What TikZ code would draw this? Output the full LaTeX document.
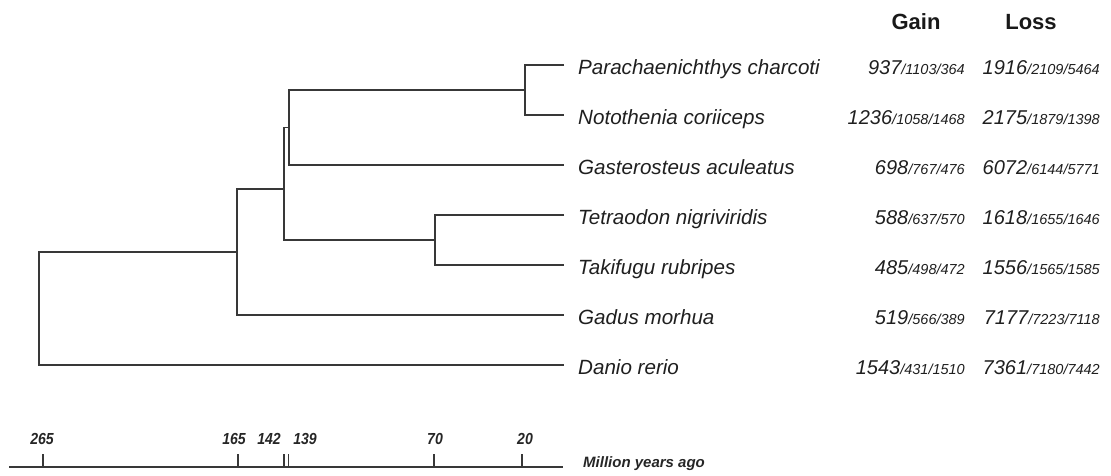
\documentclass[tikz,border=0pt]{standalone}
\usepackage{fontspec}
\setmainfont{Liberation Sans}
\newfontfamily\axisfont[FakeStretch=0.88]{Liberation Sans}
\begin{document}
\begin{tikzpicture}[x=1pt,y=-1pt,
  tree/.style={line width=1.5pt, draw=black!78},
  species/.style={anchor=base west, inner sep=0pt, font=\fontsize{20.6}{24}\selectfont\itshape, text=black!88},
  num/.style={anchor=base east, inner sep=0pt, font=\itshape, text=black!88},
  head/.style={anchor=base, inner sep=0pt, font=\fontsize{22}{26}\selectfont\bfseries, text=black!90},
  tick/.style={line width=1.4pt, draw=black!78},
  ticklab/.style={anchor=base, inner sep=0pt, font=\fontsize{16}{18}\selectfont\axisfont\bfseries\itshape, text=black!85}]
\useasboundingbox (0,0) rectangle (1111,475);
\newcommand{\gl}[2]{{\fontsize{20}{24}\selectfont #1}{\fontsize{14.5}{17}\selectfont #2}}
% leaves
\coordinate (lPara) at (564,65);
\coordinate (lNoto) at (564,115);
\coordinate (lGast) at (564,165);
\coordinate (lTetra) at (564,215);
\coordinate (lTaki) at (564,265);
\coordinate (lGadus) at (564,315);
\coordinate (lDanio) at (564,365);
% internal nodes
\coordinate (n20) at (525,90);
\coordinate (n139) at (289,127.5);
\coordinate (n70) at (435,240);
\coordinate (n142) at (284,189);
\coordinate (n165) at (237,252);
\coordinate (root) at (39,308.5);
% tree
\draw[tree] (lPara) -| (n20) |- (lNoto);
\draw[tree] (n20) -| (n139) |- (lGast);
\draw[tree] (lTetra) -| (n70) |- (lTaki);
\draw[tree] (n139) -| (n142) |- (n70);
\draw[tree] (n142) -| (n165) |- (lGadus);
\draw[tree] (n165) -| (root) |- (lDanio);
% headers
\node[head] (hGain) at (916,29) {Gain};
\node[head] (hLoss) at (1031,29) {Loss};
% species and numbers
\node[species] (tPara) at (578,74) {Parachaenichthys charcoti};
\node[num] (gPara) at (965,74) {\gl{937}{/1103/364}};
\node[num] (xPara) at (1100,74) {\gl{1916}{/2109/5464}};
\node[species] (tNoto) at (578,124) {Notothenia coriiceps};
\node[num] (gNoto) at (965,124) {\gl{1236}{/1058/1468}};
\node[num] (xNoto) at (1100,124) {\gl{2175}{/1879/1398}};
\node[species] (tGast) at (578,174) {Gasterosteus aculeatus};
\node[num] (gGast) at (965,174) {\gl{698}{/767/476}};
\node[num] (xGast) at (1100,174) {\gl{6072}{/6144/5771}};
\node[species] (tTetra) at (578,224) {Tetraodon nigriviridis};
\node[num] (gTetra) at (965,224) {\gl{588}{/637/570}};
\node[num] (xTetra) at (1100,224) {\gl{1618}{/1655/1646}};
\node[species] (tTaki) at (578,274) {Takifugu rubripes};
\node[num] (gTaki) at (965,274) {\gl{485}{/498/472}};
\node[num] (xTaki) at (1100,274) {\gl{1556}{/1565/1585}};
\node[species] (tGadus) at (578,324) {Gadus morhua};
\node[num] (gGadus) at (965,324) {\gl{519}{/566/389}};
\node[num] (xGadus) at (1100,324) {\gl{7177}{/7223/7118}};
\node[species] (tDanio) at (578,374) {Danio rerio};
\node[num] (gDanio) at (965,374) {\gl{1543}{/431/1510}};
\node[num] (xDanio) at (1100,374) {\gl{7361}{/7180/7442}};
% time axis
\coordinate (a0) at (9,467);
\coordinate (a1) at (563,467);
\draw[tree] (a0) -- (a1);
\coordinate (t265) at (43,467);
\coordinate (t165) at (238,467);
\coordinate (t142) at (284,467);
\coordinate (t139) at (288.5,467);
\coordinate (t70) at (434,467);
\coordinate (t20) at (522,467);
\foreach \t in {t265,t165,t142,t139,t70,t20} \draw[tick] (\t) -- ++(0,-13);
\node[ticklab] (l265) at (42,444) {265};
\node[ticklab] (l165) at (234,444) {165};
\node[ticklab] (l142) at (269,444) {142};
\node[ticklab] (l139) at (305,444) {139};
\node[ticklab] (l70) at (435,444) {70};
\node[ticklab] (l20) at (525,444) {20};
\node[anchor=base west, inner sep=0pt, font=\fontsize{15}{18}\selectfont\bfseries\itshape, text=black!85] (myr) at (583,467) {Million years ago};
\end{tikzpicture}
\end{document}
